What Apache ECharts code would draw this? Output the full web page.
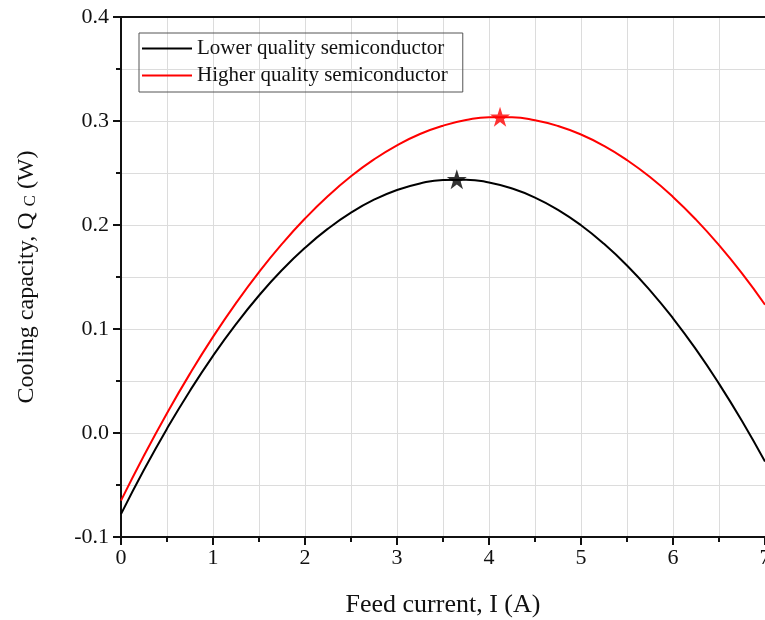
<!DOCTYPE html>
<html>
<head>
<meta charset="utf-8">
<script src="https://cdn.jsdelivr.net/npm/echarts@6/dist/echarts.min.js"></script>
<style>html,body{margin:0;padding:0;background:#fff}#c{width:765px;height:620px}</style>
</head>
<body>
<div id="c"></div>
<script>
const currentA = [0,0.25,0.5,0.75,1,1.25,1.5,1.75,2,2.25,2.5,2.75,3,3.25,3.5,3.75,4,4.25,4.5,4.75,5,5.25,5.5,5.75,6,6.25,6.5,6.75,7];
const lowerQuality = [-0.078,-0.0354,0.0042,0.0407,0.0742,0.1047,0.1322,0.1567,0.1781,0.1965,0.2119,0.2243,0.2337,0.2400,0.2433,0.2436,0.2409,0.2351,0.2264,0.2146,0.1998,0.1819,0.1611,0.1372,0.1103,0.0804,0.0474,0.0115,-0.0275];
const higherQuality = [-0.065,-0.0216,0.0191,0.0571,0.0924,0.1249,0.1547,0.1818,0.2062,0.2279,0.2469,0.2631,0.2766,0.2875,0.2955,0.3009,0.3036,0.3035,0.3007,0.2952,0.2870,0.2761,0.2624,0.2461,0.2270,0.2052,0.1806,0.1534,0.1234];
const lowerPeak = [3.65, 0.244];
const higherPeak = [4.12, 0.304];
const seriesNames = ['Lower quality semiconductor', 'Higher quality semiconductor'];

const font = 'Liberation Serif';
const star = 'path://M50,0 L61.8,35.1 L98.9,35.1 L68.9,56.7 L80.3,91.9 L50,70.2 L19.7,91.9 L31.1,56.7 L1.1,35.1 L38.2,35.1 Z';
const chart = echarts.init(document.getElementById('c'), null, {renderer: 'canvas'});
const pair = (xs, ys) => xs.map((x, i) => [x, ys[i]]);
const gridLine = {show: true, lineStyle: {color: '#dcdcdc', width: 1}};
chart.setOption({
  animation: false,
  backgroundColor: '#fff',
  grid: {left: 121, top: 17, right: 0, bottom: 83, containLabel: false, outerBoundsMode: 'none'},
  legend: {
    data: seriesNames,
    left: 139, top: 33, orient: 'vertical',
    padding: [5, 15, 6, 3],
    itemGap: 6,
    itemWidth: 50, itemHeight: 22,
    borderColor: '#555', borderWidth: 1, borderRadius: 0,
    icon: 'path://M0,10 L50,10 L50,12 L0,12 Z',
    textStyle: {fontFamily: font, fontSize: 21, color: '#111'}
  },
  xAxis: [{
    type: 'value', min: 0, max: 7, interval: 1,
    name: 'Feed current, I (A)', nameLocation: 'middle', nameGap: 55,
    nameTextStyle: {fontFamily: font, fontSize: 26, color: '#111'},
    axisLine: {show: true, onZero: false, lineStyle: {color: '#111', width: 2}},
    axisTick: {show: true, inside: false, length: 8, lineStyle: {color: '#111', width: 2}},
    minorTick: {show: true, splitNumber: 2, length: 5, lineStyle: {color: '#111', width: 2}},
    axisLabel: {fontFamily: font, fontSize: 22, color: '#111', margin: 10},
    splitLine: gridLine,
    minorSplitLine: gridLine
  }, {
    type: 'value', position: 'top', min: 0, max: 7,
    axisLine: {show: true, onZero: false, lineStyle: {color: '#111', width: 2}},
    axisTick: {show: false}, axisLabel: {show: false}, splitLine: {show: false}
  }],
  yAxis: {
    type: 'value', min: -0.1, max: 0.4, interval: 0.1,
    name: '{n|Cooling capacity, Q }{s|C}{n| (W)}', nameLocation: 'middle', nameGap: 82,
    nameTextStyle: {rich: {
      n: {fontFamily: font, fontSize: 24, color: '#111'},
      s: {fontFamily: font, fontSize: 17, color: '#111', padding: [7, 0, 0, 0]}
    }},
    axisLine: {show: true, onZero: false, lineStyle: {color: '#111', width: 2}},
    axisTick: {show: true, inside: false, length: 8, lineStyle: {color: '#111', width: 2}},
    minorTick: {show: true, splitNumber: 2, length: 5, lineStyle: {color: '#111', width: 2}},
    axisLabel: {fontFamily: font, fontSize: 22, color: '#111', margin: 12,
      formatter: v => v.toFixed(1)},
    splitLine: gridLine,
    minorSplitLine: gridLine
  },
  series: [{
    name: seriesNames[0], type: 'line', data: pair(currentA, lowerQuality),
    smooth: true, showSymbol: false, color: '#000',
    lineStyle: {color: '#000', width: 2}
  }, {
    name: seriesNames[1], type: 'line', data: pair(currentA, higherQuality),
    smooth: true, showSymbol: false, color: '#ff0000',
    lineStyle: {color: '#ff0000', width: 2}
  }, {
    type: 'scatter', data: [lowerPeak], symbol: star, symbolSize: 20,
    itemStyle: {color: '#000'}, z: 5
  }, {
    type: 'scatter', data: [higherPeak], symbol: star, symbolSize: 20,
    itemStyle: {color: '#ff0000'}, z: 5
  }]
});
</script>
</body>
</html>
